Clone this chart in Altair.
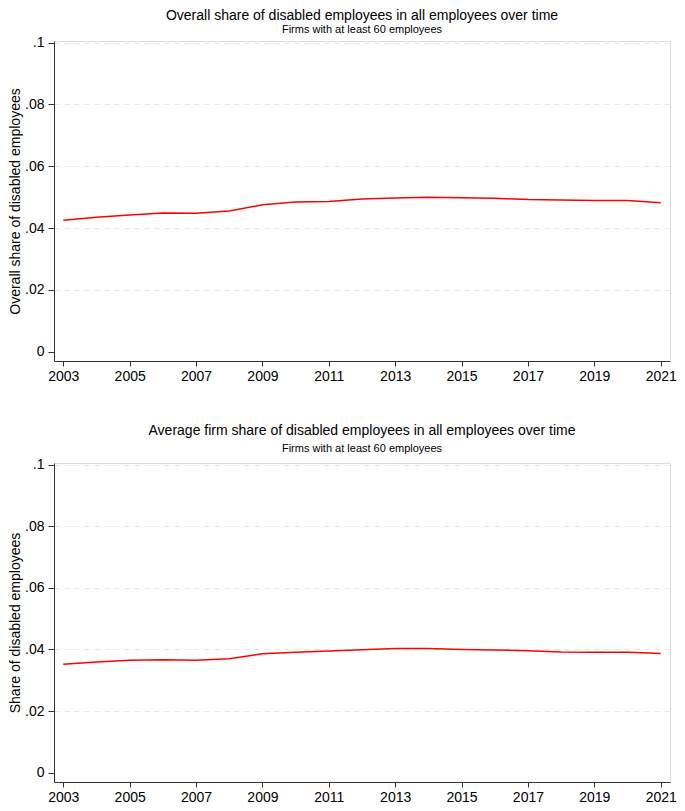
import altair as alt
import pandas as pd

years = list(range(2003, 2022))
overall_share = [0.0425, 0.0435, 0.0442, 0.0449, 0.0448, 0.0455, 0.0475, 0.0484, 0.0486,
                 0.0494, 0.0497, 0.0500, 0.0498, 0.0496, 0.0492, 0.0491, 0.0489, 0.0489, 0.0482]
firm_share = [0.0352, 0.0359, 0.0365, 0.0367, 0.0365, 0.0370, 0.0386, 0.0391, 0.0395,
              0.0399, 0.0403, 0.0403, 0.0400, 0.0398, 0.0396, 0.0392, 0.0391, 0.0391, 0.0387]
x_ticks = list(range(2003, 2022, 2))
y_ticks = [0, 0.02, 0.04, 0.06, 0.08, 0.1]

FONT = "Liberation Sans"
label_expr = "datum.value == 0 ? '0' : substring(format(datum.value, '.2~f'), 1)"


def panel(values, title, subtitle, ytitle, sub_pad, offset, height):
    df = pd.DataFrame({"year": years, "share": values})
    return alt.Chart(df, title=alt.TitleParams(
        title, subtitle=subtitle, font=FONT, fontSize=14, fontWeight="normal",
        subtitleFont=FONT, subtitleFontSize=11, subtitleColor="black", color="black",
        subtitlePadding=sub_pad, offset=offset, anchor="middle", frame="group",
    )).mark_line(color="#ff0000", strokeWidth=1.5).encode(
        x=alt.X("year:Q", scale=alt.Scale(domain=[2002.72, 2021.28], nice=False, zero=False),
                axis=alt.Axis(values=x_ticks, format="d", title=None, grid=False,
                              tickSize=5, labelPadding=3, labelFontSize=14, labelFont=FONT,
                              labelColor="black", domainColor="#333333", tickColor="#333333",
                              labelFlush=False, labelOverlap=False)),
        y=alt.Y("share:Q", scale=alt.Scale(domain=[-0.003, 0.1005], nice=False, zero=False),
                axis=alt.Axis(values=y_ticks, labelExpr=label_expr, title=ytitle,
                              titleFont=FONT, titleFontSize=14, titleFontWeight="normal",
                              titleColor="black", titlePadding=2,
                              tickSize=6, labelPadding=4, labelFontSize=14, labelFont=FONT,
                              labelColor="black", domainColor="#333333", tickColor="#333333",
                              labelFlush=False, labelOverlap=False,
                              grid=True, gridDash=[5, 5], gridColor="#e6e6e6",
                              gridOpacity={"condition": {"test": "datum.value === 0", "value": 0}, "value": 1})),
    ).properties(width=616, height=height)


top = panel(overall_share, "Overall share of disabled employees in all employees over time",
            "Firms with at least 60 employees", "Overall share of disabled employees", 1, 1, 320)
bottom = panel(firm_share, "Average firm share of disabled employees in all employees over time",
               "Firms with at least 60 employees", "Share of disabled employees", 5, 4, 319)

chart = alt.vconcat(top, bottom, spacing=39).properties(padding=0).configure_view(
    stroke=None).configure(background="white")

chart.save("out.html", embed_options={"renderer": "svg", "actions": False})
